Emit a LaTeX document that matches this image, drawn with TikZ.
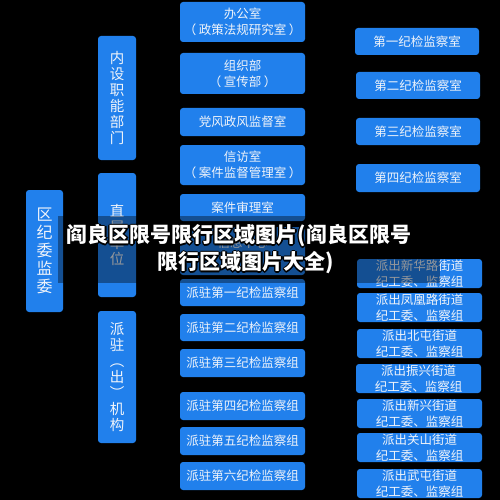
\documentclass[tikz,border=0pt]{standalone}
\usepackage{fontspec}
\newfontfamily\cjk{Noto Sans CJK SC}
\definecolor{boxblue}{RGB}{33,128,236}
\definecolor{txtw}{RGB}{240,244,250}
\tikzset{
  box/.style={rounded corners=3pt, fill=boxblue, text=txtw, inner sep=0pt, align=center,
    font=\cjk\fontsize{12.5}{16}\selectfont},
  vbox/.style={box, font=\cjk\fontsize{14.5}{16}\selectfont},
  bigvbox/.style={box, font=\cjk\fontsize{16}{18}\selectfont},
  wmark/.style={font=\cjk\bfseries\fontsize{21}{27}\selectfont, inner sep=0pt, align=center},
}
\newcommand{\bx}[7][box]{%
  \node[#1, minimum width={(#4-#2)*1pt}, minimum height={(#5-#3)*1pt}] (#6) at ({(#2+#4)/2},{-(#3+#5)/2}) {#7};}
\newcommand{\lp}{（\hspace{2.5pt}}
\newcommand{\rp}{\hspace{2.5pt}）}
\newcommand{\wmtext}[4]{%
  \foreach \dx/\dy in {-1.2/0,1.2/0,0/1.2,0/-1.2,-0.9/0.9,0.9/0.9,-0.9/-0.9,0.9/-0.9}
    {\node[wmark, text=black] at ({#2+\dx},{-#3+\dy}) {#4};}
  \node[wmark, text=white] (#1) at (#2,-#3) {#4};}
\begin{document}
\begin{tikzpicture}[x=1pt,y=1pt]
\fill[black] (0,0) rectangle (500,-500);
\useasboundingbox (0,0) rectangle (500,-500);
% left
\bx[bigvbox]{26}{190}{63}{312}{l1}{区\\纪\\委\\监\\委}
\bx[vbox]{98}{36}{136}{160}{l2}{内\\设\\职\\能\\部\\门}
\bx[vbox]{98}{173}{136}{297}{l3}{直\\属\\单\\位}
\bx[vbox]{98}{311}{136}{443}{l4}{派\\驻\\︵\\出\\︶\\机\\构}
% middle
\bx{180}{2}{305}{42}{m1}{办公室\\\lp 政策法规研究室\rp}
\bx{180}{53}{305}{94}{m2}{组织部\\\lp 宣传部\rp}
\bx{180}{108}{305}{136}{m3}{党风政风监督室}
\bx{180}{145}{305}{185}{m4}{信访室\\\lp 案件监督管理室\rp}
\bx{180}{194}{305}{221}{m5}{案件审理室}
\bx{180}{227}{305}{275}{m6}{信息中心\\\phantom{信}}
\bx{180}{279}{305}{306}{m7}{派驻第一纪检监察组}
\bx{180}{314}{305}{341}{m8}{派驻第二纪检监察组}
\bx{180}{349}{305}{377}{m9}{派驻第三纪检监察组}
\bx{180}{392}{305}{420}{m10}{派驻第四纪检监察组}
\bx{180}{427}{305}{455}{m11}{派驻第五纪检监察组}
\bx{180}{462}{305}{490}{m12}{派驻第六纪检监察组}
% right top
\bx{355}{28}{479}{55}{r1}{第一纪检监察室}
\bx{356}{72}{480}{99}{r2}{第二纪检监察室}
\bx{356}{118}{480}{145}{r3}{第三纪检监察室}
\bx{356}{164}{480}{192}{r4}{第四纪检监察室}
% right bottom
\bx{357}{259}{482}{288}{s1}{派出新华路街道\\纪工委、监察组}
\bx{357}{293}{482}{322}{s2}{派出凤凰路街道\\纪工委、监察组}
\bx{357}{329}{482}{358}{s3}{派出北屯街道\\纪工委、监察组}
\bx{356}{364}{481}{393}{s4}{派出振兴街道\\纪工委、监察组}
\bx{357}{399}{482}{428}{s5}{派出新兴街道\\纪工委、监察组}
\bx{357}{433}{482}{462}{s6}{派出关山街道\\纪工委、监察组}
\bx{357}{469}{482}{498}{s7}{派出武屯街道\\纪工委、监察组}
% watermark band
\fill[black, opacity=0.38] (58,-216) rectangle (440,-283);
\wmtext{w1}{239}{236}{阎良区限号限行区域图片(阎良区限号}
\wmtext{w2}{246}{263}{限行区域图片大全)}
\end{tikzpicture}
\end{document}
